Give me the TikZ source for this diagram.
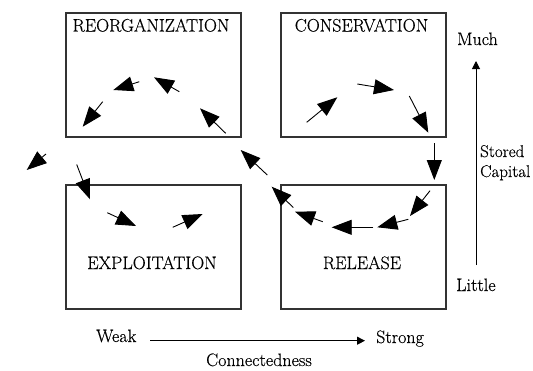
\documentclass[tikz,border=0pt]{standalone}
\usepackage{fontspec}
\setmainfont{Latin Modern Roman}[FakeBold=0.3]
\usetikzlibrary{arrows.meta}
\begin{document}
\begin{tikzpicture}[x=1pt,y=-1pt,
  panel/.style={draw=black!80,line width=1.3pt,minimum width=175pt,minimum height=124pt,inner sep=0pt},
  panelb/.style={panel,minimum width=165pt},
  lbl/.style={inner sep=0pt,font=\fontsize{18}{21}\selectfont},
  lbls/.style={inner sep=0pt,font=\fontsize{17}{20}\selectfont},
  flow/.style={line width=0.9pt,-{Triangle[length=20pt,width=15pt]}},
  axis/.style={line width=1pt,-{Triangle[length=8pt,width=8pt]}}]
\useasboundingbox[fill=white] (0,0) rectangle (533,370);
% boxes
\node[panel]  (reorg) at (153.5,75) {};
\node[panelb] (cons)  at (363.5,75) {};
\node[panel]  (expl)  at (153.5,247) {};
\node[panelb] (rel)   at (363.5,247) {};
% box titles
\node[lbl,anchor=base] (treorg) at (151,31.5) {REORGANIZATION};
\node[lbl,anchor=base] (tcons)  at (361.5,31.5) {CONSERVATION};
\node[lbl,anchor=base] (texpl)  at (152,269) {EXPLOITATION};
\node[lbl,anchor=base] (trel)   at (362,269) {RELEASE};
% axis labels
\node[lbl,anchor=base west] (much)   at (457,45) {Much};
\node[lbls,anchor=base west] (stored) at (480,157) {Stored};
\node[lbls,anchor=base west] (capital) at (480,177) {Capital};
\node[lbl,anchor=base west] (little) at (456,291) {Little};
\node[lbl,anchor=base west] (weak)   at (96,342) {Weak};
\node[lbl,anchor=base west] (strong) at (376,343) {Strong};
\node[lbl,anchor=base west] (conn)   at (206,366) {Connectedness};
% axes
\coordinate (vb) at (476,265);
\coordinate (vt) at (476,61);
\coordinate (hl) at (150,340.7);
\coordinate (hr) at (365,340.7);
\draw[axis] (vb) -- (vt);
\draw[axis] (hl) -- (hr);
% cycle arrows (tail -> tip)
\coordinate (a1) at (102.7,101.7); \coordinate (a2) at (82.7,126.7);
\coordinate (b1) at (139.3,81.7);  \coordinate (b2) at (113.3,90);
\coordinate (c1) at (179.3,91.7);  \coordinate (c2) at (154,77.3);
\coordinate (d1) at (225.7,133.3); \coordinate (d2) at (200,108.3);
\coordinate (e1) at (267.3,175);   \coordinate (e2) at (240.7,150);
\coordinate (f1) at (293.3,207.5); \coordinate (f2) at (271.7,186.7);
\coordinate (g1) at (322.7,221.7); \coordinate (g2) at (295,211.7);
\coordinate (h1) at (373.3,227.3); \coordinate (h2) at (331.7,227.3);
\coordinate (i1) at (408.3,219.3); \coordinate (i2) at (377.3,227.3);
\coordinate (j1) at (430,190.7);   \coordinate (j2) at (410,216);
\coordinate (k1) at (434.3,143.3); \coordinate (k2) at (434.3,180);
\coordinate (l1) at (306.7,122.3); \coordinate (l2) at (337.3,97.3);
\coordinate (m1) at (357.3,84);    \coordinate (m2) at (394,90);
\coordinate (n1) at (409.3,96);    \coordinate (n2) at (428.3,132.7);
\coordinate (o1) at (46,154);      \coordinate (o2) at (26.7,170);
\coordinate (p1) at (76.7,164.5);  \coordinate (p2) at (90,199.3);
\coordinate (q1) at (107.3,212.7); \coordinate (q2) at (136,226);
\coordinate (r1) at (172.7,227.3); \coordinate (r2) at (202.7,214);
\foreach \s in {a,b,c,d,e,f,g,h,i,j,k,l,m,n,o,p,q,r}
  \draw[flow] (\s1) -- (\s2);
\end{tikzpicture}
\end{document}
